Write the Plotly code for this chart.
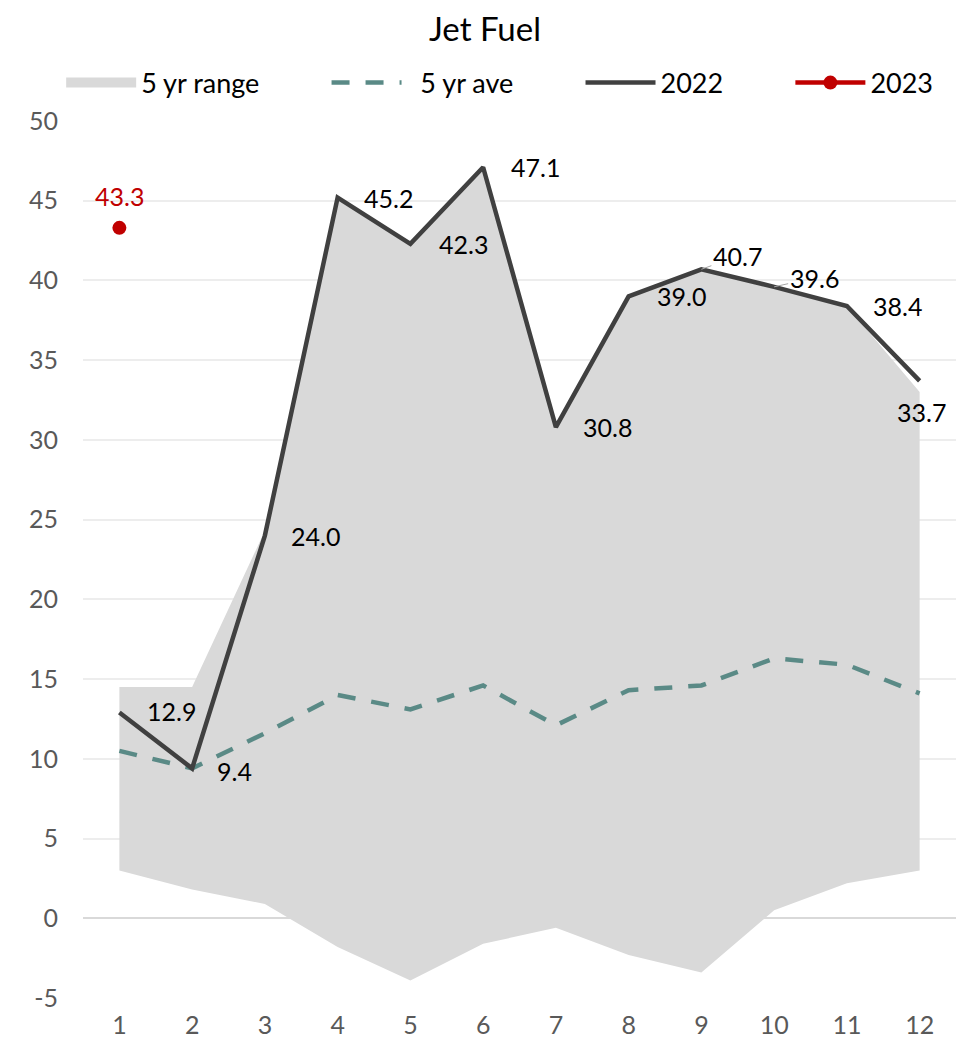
import plotly.graph_objects as go

# ---------------- DATA ----------------
months = [1, 2, 3, 4, 5, 6, 7, 8, 9, 10, 11, 12]
range_low = [3.0, 1.8, 0.9, -1.8, -3.9, -1.6, -0.6, -2.3, -3.4, 0.5, 2.2, 3.0]
range_high = [14.5, 14.5, 24.3, 45.2, 42.3, 47.1, 30.8, 39.0, 40.7, 39.6, 38.4, 33.0]
ave_5yr = [10.5, 9.4, 11.6, 14.0, 13.1, 14.6, 12.1, 14.3, 14.6, 16.3, 15.9, 14.1]
y2022 = [12.9, 9.4, 24.0, 45.2, 42.3, 47.1, 30.8, 39.0, 40.7, 39.6, 38.4, 33.7]
months_2023 = [1]
y2023 = [43.3]
y_ticks = [-5, 0, 5, 10, 15, 20, 25, 30, 35, 40, 45, 50]

# label offsets in pixels (x, y) for the 2022 labels
lbl_dx = [52, 42, 51, 51, 53, 52, 52, 53, 36, 40, 51, 2]
lbl_dy = [-2, 3, 0, 0, 0, 0, 0, 0, -13, -9, 0, 31]
lbl_leader = [False] * 8 + [True, True] + [False, False]

FONT = "Lato"
PAD = "\u00A0" * 9  # extra room between legend entries

fig = go.Figure()

# 5 yr range as a band (legend entry drawn by a separate dummy trace)
fig.add_trace(go.Scatter(x=months, y=range_low, mode="lines", line=dict(width=0),
                         showlegend=False, hoverinfo="skip"))
fig.add_trace(go.Scatter(x=months, y=range_high, mode="lines", line=dict(width=0),
                         fill="tonexty", fillcolor="#D9D9D9", showlegend=False))
fig.add_trace(go.Scatter(x=[None], y=[None], mode="lines", name="5 yr range" + PAD,
                         line=dict(color="#D9D9D9", width=22)))

fig.add_trace(go.Scatter(x=months, y=ave_5yr, mode="lines", name="\u00A0\u00A05 yr ave" + PAD,
                         line=dict(color="#5A8A86", width=4.5, dash="18px,16px")))
fig.add_trace(go.Scatter(x=months, y=y2022, mode="lines", name="2022" + PAD,
                         line=dict(color="#404040", width=4.5)))
fig.add_trace(go.Scatter(x=months_2023, y=y2023, mode="lines+markers", name="2023",
                         line=dict(color="#C00000", width=4.5),
                         marker=dict(color="#C00000", size=14)))

# data labels
for m, v, dx, dy, lead in zip(months, y2022, lbl_dx, lbl_dy, lbl_leader):
    if lead:
        fig.add_annotation(x=m, y=v, text=f"{v:.1f}", showarrow=True, arrowhead=0,
                           arrowwidth=1, arrowcolor="#A6A6A6", ax=dx, ay=dy,
                           font=dict(family=FONT, size=25, color="#000000"))
    else:
        fig.add_annotation(x=m, y=v, text=f"{v:.1f}", showarrow=False,
                           xshift=dx, yshift=-dy,
                           font=dict(family=FONT, size=25, color="#000000"))
for m, v in zip(months_2023, y2023):
    fig.add_annotation(x=m, y=v, text=f"{v:.1f}", showarrow=False, yshift=32,
                       font=dict(family=FONT, size=25, color="#C00000"))

fig.update_layout(
    width=954, height=1041,
    paper_bgcolor="white", plot_bgcolor="white",
    margin=dict(l=75, r=6, t=113, b=51),
    title=dict(text="Jet Fuel", x=0.5, xanchor="center", y=0.979, yanchor="middle",
               font=dict(family=FONT, size=33, color="#000000")),
    font=dict(family=FONT, color="#595959"),
    legend=dict(orientation="h", x=-0.025, xanchor="left", y=1.0433, yanchor="middle",
                font=dict(family=FONT, size=27, color="#000000"),
                itemwidth=70, traceorder="normal"),
    showlegend=True,
)
fig.update_xaxes(range=[0.5, 12.5], tickmode="array", tickvals=months,
                 ticktext=[str(m) for m in months], showgrid=False, zeroline=False,
                 showline=False, ticks="", ticklabelstandoff=10,
                 tickfont=dict(family=FONT, size=25, color="#595959"))
fig.update_yaxes(range=[-5, 50], tickmode="array", tickvals=y_ticks,
                 ticktext=[str(t) for t in y_ticks], showgrid=True, gridcolor="#EDEDED",
                 gridwidth=1.5, zeroline=True, zerolinecolor="#D9D9D9", zerolinewidth=2,
                 showline=False, ticks="", ticklabelstandoff=24,
                 tickfont=dict(family=FONT, size=25, color="#595959"))

fig.write_html("out.html")
